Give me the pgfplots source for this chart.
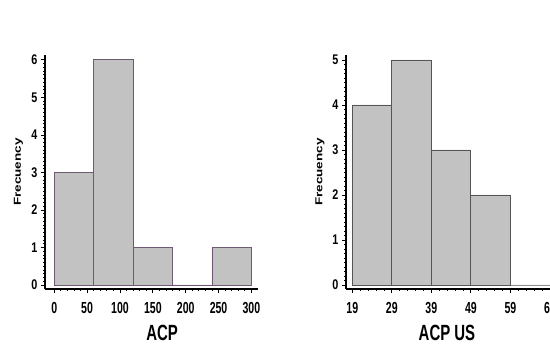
\documentclass[border=0pt]{standalone}
\usepackage{pgfplots}
\pgfplotsset{compat=1.18}
\usepackage{fontspec}
\setmainfont{Liberation Sans}
\definecolor{barfill}{RGB}{194,194,194}
\definecolor{edgeA}{RGB}{110,88,115}
\definecolor{edgeB}{RGB}{85,85,85}
\pgfplotsset{
  histo/.style={
    scale only axis,
    height=234bp,
    width=213bp,
    anchor=south west,
    axis x line*=bottom,
    axis y line*=left,
    axis line style={black, line width=1.1bp},
    tick align=outside,
    major tick length=4bp,
    minor tick length=2bp,
    every tick/.style={black, line width=0.8bp},
    minor tick num=4,
    /pgf/number format/assume math mode=true,
    xticklabel={\scalebox{0.66}[1]{\fontsize{16bp}{16bp}\bfseries\pgfmathprintnumber{\tick}}},
    yticklabel={\scalebox{0.77}[1]{\fontsize{14bp}{14bp}\bfseries\pgfmathprintnumber{\tick}}},
    xticklabel style={yshift=-6bp},
    yticklabel style={xshift=0bp},
    ylabel={\scalebox{1}[0.75]{\fontsize{13.5bp}{13.5bp}\bfseries Frecuency}},
    clip=false,
  }
}
\begin{document}
\begin{tikzpicture}
\path[use as bounding box] (0bp,0bp) rectangle (550bp,345bp);
\clip (0bp,0bp) rectangle (550bp,345bp);
\begin{axis}[histo, at={(45bp,56bp)},
  xmin=-14, xmax=310, ymin=-0.107, ymax=6.13,
  xtick={0,50,100,150,200,250,300},
  ytick={0,1,2,3,4,5,6},
  minor y tick num=9,
  xlabel={\scalebox{0.68}[1]{\fontsize{22bp}{22bp}\bfseries ACP}},
  xlabel style={at={(axis description cs:0.55,0)}, anchor=north, yshift=-33bp},
  ylabel style={at={(axis description cs:-0.125,0.5)}, anchor=center},
]
\addplot[ybar interval, fill=barfill, draw=edgeA, line width=0.9bp]
  coordinates {(0,3) (60,6) (120,1) (180,0) (240,1) (300,1)};
\end{axis}
\begin{axis}[histo, at={(346bp,56bp)},
  xmin=17.4, xmax=71.3, ymin=-0.089, ymax=5.11,
  xtick={19,29,39,49,59,69},
  ytick={0,1,2,3,4,5},
  minor y tick num=9,
  xlabel={\scalebox{0.68}[1]{\fontsize{22bp}{22bp}\bfseries ACP US}},
  xlabel style={at={(axis description cs:0.474,0)}, anchor=north, yshift=-33bp},
  ylabel style={at={(axis description cs:-0.122,0.5)}, anchor=center},
]
\addplot[ybar interval, fill=barfill, draw=edgeB, line width=0.9bp]
  coordinates {(19,4) (29,5) (39,3) (49,2) (59,0) (69,0)};
\end{axis}
\end{tikzpicture}
\end{document}
